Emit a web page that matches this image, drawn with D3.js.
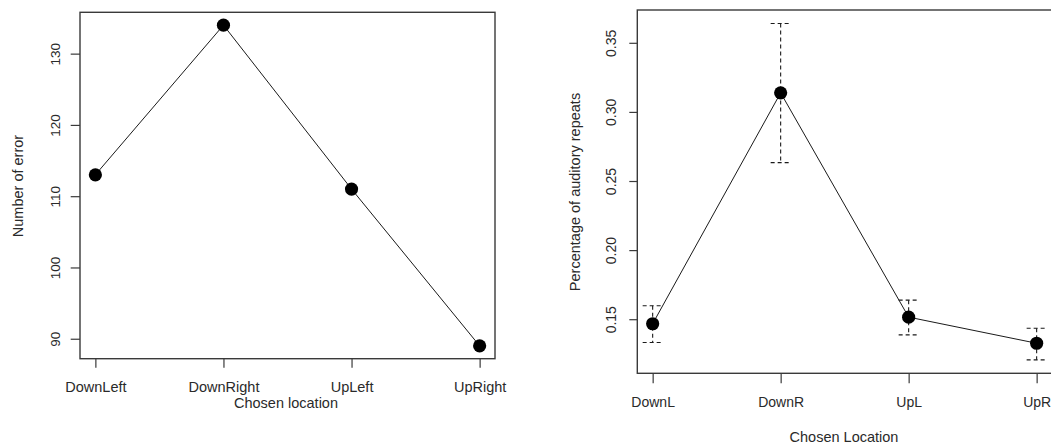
<!DOCTYPE html>
<html>
<head>
<meta charset="utf-8">
<script src="https://cdn.jsdelivr.net/npm/d3@7"></script>
<style>
  html, body { margin: 0; padding: 0; background: #fff; }
  svg { display: block; font-family: "Liberation Sans", Arial, sans-serif; }
</style>
</head>
<body>
<svg id="chart" width="1051" height="445"></svg>
<script>
// ---- Data ----
const leftCategories = ["DownLeft", "DownRight", "UpLeft", "UpRight"];
const leftValues = [113, 134, 111, 89];
const leftYTicks = [90, 100, 110, 120, 130];

const rightCategories = ["DownL", "DownR", "UpL", "UpR"];
const rightMeans = [0.1467, 0.3138, 0.1515, 0.1326];
const rightUpper = [0.1597, 0.3640, 0.1638, 0.1435];
const rightLower = [0.1331, 0.2633, 0.1387, 0.1206];
const rightYTicks = [0.15, 0.20, 0.25, 0.30, 0.35];

const svg = d3.select("#chart");
const ink = "#1a1a1a";
const textCol = "#2a2a2a";

function ext(lo, hi) { const d = (hi - lo) * 0.04; return [lo - d, hi + d]; }

function panel(o) {
  const g = svg.append("g");
  const idx = o.categories.map((_, i) => i + 1);
  const x = d3.scaleLinear().domain(ext(1, o.categories.length)).range([o.left, o.right]);
  const y = d3.scaleLinear().domain(ext(o.ymin, o.ymax)).range([o.bottom, o.top]);

  // box
  g.append("rect").attr("x", o.left).attr("y", o.top)
    .attr("width", o.right - o.left).attr("height", o.bottom - o.top)
    .attr("fill", "none").attr("stroke", "#3a3a3a").attr("stroke-width", 1.4);

  // x axis
  const xa = g.append("g").attr("transform", `translate(0,${o.bottom})`)
    .call(d3.axisBottom(x).tickValues(idx).tickFormat(i => o.categories[i - 1])
      .tickSizeOuter(0).tickSizeInner(o.xTick).tickPadding(o.xPad));
  xa.select(".domain").remove();
  xa.selectAll("line").attr("stroke", "#3a3a3a").attr("stroke-width", 1.2);
  xa.selectAll("text").attr("fill", textCol).style("font-size", o.xFont + "px")
    .style("font-family", "Liberation Sans, Arial, sans-serif");

  // y axis
  const ya = g.append("g").attr("transform", `translate(${o.left},0)`)
    .call(d3.axisLeft(y).tickValues(o.yTicks).tickFormat(o.yFmt)
      .tickSizeOuter(0).tickSizeInner(o.yTick).tickPadding(0));
  ya.select(".domain").remove();
  ya.selectAll("line").attr("stroke", "#3a3a3a").attr("stroke-width", 1.2);
  ya.selectAll("text").each(function(d) {
    d3.select(this).attr("x", null).attr("dy", null)
      .attr("text-anchor", "middle")
      .attr("transform", `translate(${o.yLabX - o.left},0) rotate(-90)`)
      .attr("dy", "0.35em")
      .attr("fill", textCol).style("font-size", o.yFont + "px")
      .style("font-family", "Liberation Sans, Arial, sans-serif");
  });

  // titles
  g.append("text").attr("x", o.xTitleX).attr("y", o.xTitleY).attr("dy", "0.35em")
    .attr("text-anchor", "middle").attr("fill", textCol)
    .style("font-size", o.titleFont + "px").text(o.xTitle);
  g.append("text").attr("transform", `translate(${o.yTitleX},${o.yTitleY}) rotate(-90)`)
    .attr("dy", "0.35em").attr("text-anchor", "middle").attr("fill", textCol)
    .style("font-size", o.titleFont + "px").text(o.yTitle);

  // error bars
  if (o.upper) {
    idx.forEach((i, k) => {
      g.append("line").attr("x1", x(i)).attr("x2", x(i))
        .attr("y1", y(o.upper[k])).attr("y2", y(o.lower[k]))
        .attr("stroke", ink).attr("stroke-width", 1.1).attr("stroke-dasharray", "4,3");
      [o.upper[k], o.lower[k]].forEach(v => {
        g.append("line").attr("x1", x(i) - 10).attr("x2", x(i) + 10)
          .attr("y1", y(v)).attr("y2", y(v))
          .attr("stroke", ink).attr("stroke-width", 1.1).attr("stroke-dasharray", "4,3");
      });
    });
  }

  // line
  const line = d3.line().x((d, k) => x(idx[k])).y(d => y(d));
  g.append("path").datum(o.values).attr("d", line)
    .attr("fill", "none").attr("stroke", ink).attr("stroke-width", 1);

  // points
  g.selectAll("circle.pt").data(o.values).enter().append("circle")
    .attr("cx", (d, k) => x(idx[k])).attr("cy", d => y(d)).attr("r", 6.6)
    .attr("fill", "#000");
}

panel({
  categories: leftCategories, values: leftValues,
  ymin: d3.min(leftValues), ymax: d3.max(leftValues), yTicks: leftYTicks, yFmt: d3.format("d"),
  left: 80, right: 495, top: 12.3, bottom: 358.7,
  xTick: 9, xPad: 14, yTick: 9.3, yLabX: 55,
  xFont: 14.5, yFont: 13.5, titleFont: 14.5,
  xTitle: "Chosen location", xTitleX: 286, xTitleY: 403,
  yTitle: "Number of error", yTitleX: 18, yTitleY: 186
});

panel({
  categories: rightCategories, values: rightMeans, upper: rightUpper, lower: rightLower,
  ymin: d3.min(rightLower), ymax: d3.max(rightUpper), yTicks: rightYTicks, yFmt: d3.format(".2f"),
  left: 637.3, right: 1052, top: 10, bottom: 373.3,
  xTick: 10, xPad: 14, yTick: 8, yLabX: 611,
  xFont: 14, yFont: 14, titleFont: 14.5,
  xTitle: "Chosen Location", xTitleX: 844, xTitleY: 436.5,
  yTitle: "Percentage of auditory repeats", yTitleX: 575, yTitleY: 192
});
</script>
</body>
</html>
